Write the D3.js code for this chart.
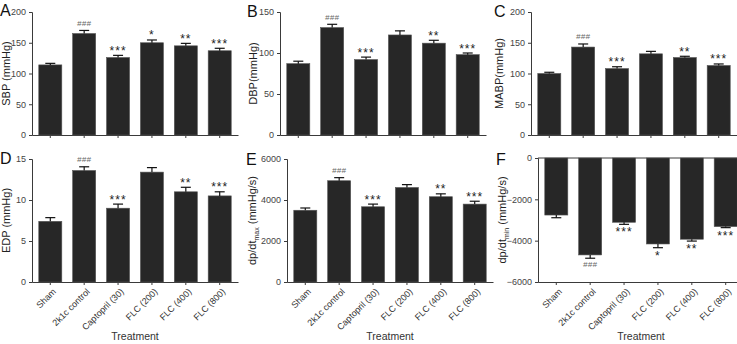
<!DOCTYPE html>
<html>
<head>
<meta charset="utf-8">
<script src="https://cdn.jsdelivr.net/npm/d3@7"></script>
<style>
  body { margin: 0; background: #fff; }
  text { font-family: "Liberation Sans", Arial, sans-serif; }
</style>
</head>
<body>
<div id="chart"></div>
<script>
// groups on the x axis
var groups = ["Sham", "2k1c control", "Captopril (30)", "FLC (200)", "FLC (400)", "FLC (800)"];

// mean values per panel
var sbp = [114, 165, 126, 150, 145, 137];
var dbp = [87, 131, 92, 122, 112, 98];
var mabp = [100, 143, 108, 132, 126, 113];
var edp = [7.4, 13.6, 9.0, 13.4, 11.0, 10.5];
var dpdtMax = [3500, 4940, 3670, 4610, 4160, 3800];
var dpdtMin = [-2760, -4690, -3110, -4160, -3930, -3320];

// SEM (error bar length)
var sbpErr = [2.5, 5, 3.5, 4.5, 4, 4];
var dbpErr = [3, 4, 3, 5, 3.5, 2];
var mabpErr = [2, 5, 3, 4, 2, 2.5];
var edpErr = [0.45, 0.45, 0.5, 0.55, 0.55, 0.5];
var dpdtMaxErr = [110, 150, 130, 140, 140, 140];
var dpdtMinErr = [130, 160, 100, 180, 90, 50];

// significance marks
var sigA = ["", "###", "***", "*", "**", "***"];
var sigB = ["", "###", "***", "", "**", "***"];
var sigC = ["", "###", "***", "", "**", "***"];
var sigD = ["", "###", "***", "", "**", "***"];
var sigE = ["", "###", "***", "", "**", "***"];
var sigF = ["", "###", "***", "*", "**", "***"];

// y tick values
var ticksA = [0, 50, 100, 150, 200];
var ticksB = [0, 50, 100, 150];
var ticksC = [0, 50, 100, 150, 200];
var ticksD = [0, 5, 10, 15];
var ticksE = [0, 2000, 4000, 6000];
var ticksF = [0, -2000, -4000, -6000];

var width = 737, height = 344;
var svg = d3.select('#chart').append('svg')
    .attr('width', width)
    .attr('height', height);

var barColor = '#272727';
var axisColor = '#3a3a3a';

var panels = [
  {letter: 'A', title: ['SBP (mmHg)'], vals: sbp, err: sbpErr, sig: sigA, ticks: ticksA,
   ax: 32, top: 12, bottom: 135, letterX: 0, letterY: 16, titleX: 6},
  {letter: 'B', title: ['DBP(mmHg)'], vals: dbp, err: dbpErr, sig: sigB, ticks: ticksB,
   ax: 280, top: 12, bottom: 135, letterX: 247, letterY: 17, titleX: 253},
  {letter: 'C', title: ['MABP(mmHg)'], vals: mabp, err: mabpErr, sig: sigC, ticks: ticksC,
   ax: 531, top: 12, bottom: 135, letterX: 494, letterY: 17, titleX: 499},
  {letter: 'D', title: ['EDP (mmHg)'], vals: edp, err: edpErr, sig: sigD, ticks: ticksD,
   ax: 32, top: 159, bottom: 282, letterX: 0, letterY: 164, titleX: 6, xlabels: true},
  {letter: 'E', title: ['dp/dt', 'max', ' (mmHg/s)'], vals: dpdtMax, err: dpdtMaxErr, sig: sigE, ticks: ticksE,
   ax: 287, top: 159, bottom: 282, letterX: 246, letterY: 165, titleX: 252, xlabels: true},
  {letter: 'F', title: ['dp/dt', 'min', ' (mmHg/s)'], vals: dpdtMin, err: dpdtMinErr, sig: sigF, ticks: ticksF,
   ax: 538, top: 158, bottom: 282, letterX: 496, letterY: 165, titleX: 502, xlabels: true}
];

panels.forEach(function(p) {
  var g = svg.append('g');
  var ext = d3.extent(p.ticks);
  var y = d3.scaleLinear().domain(ext).range([p.bottom, p.top]);
  var x = d3.scaleBand().domain(groups)
      .range([p.ax, p.ax + 206])
      .paddingInner(0.32).paddingOuter(0.2);

  // y axis
  var yAxis = d3.axisLeft(y).tickValues(p.ticks).tickSize(3).tickPadding(3)
      .tickFormat(function(d) { return d < 0 ? '\u2212' + Math.abs(d) : d; });
  var yg = g.append('g').attr('transform', 'translate(' + p.ax + ',0)').call(yAxis);
  yg.select('.domain').attr('stroke', axisColor);
  yg.selectAll('.tick line').attr('stroke', axisColor);
  yg.selectAll('.tick text').attr('fill', '#444').style('font-size', '9px');

  // x axis at bottom
  var xAxis = d3.axisBottom(x).tickSize(3).tickSizeOuter(0).tickFormat('');
  var xg = g.append('g').attr('transform', 'translate(0,' + p.bottom + ')').call(xAxis);
  xg.select('.domain').attr('stroke', axisColor);
  xg.selectAll('.tick line').attr('stroke', axisColor);

  var base = y(0);
  // zero line for the negative panel
  if (ext[1] === 0) {
    g.append('line').attr('x1', p.ax).attr('x2', p.ax + 206)
      .attr('y1', base).attr('y2', base).attr('stroke', axisColor);
  }

  // bars
  g.selectAll('rect.bar').data(p.vals).enter().append('rect')
    .attr('class', 'bar')
    .attr('x', function(d, i) { return x(groups[i]); })
    .attr('width', x.bandwidth())
    .attr('y', function(d) { return Math.min(y(d), base); })
    .attr('height', function(d) { return Math.abs(y(d) - base); })
    .attr('fill', barColor)
    .attr('stroke', '#555')
    .attr('stroke-width', 0.6);

  // error bars (one-sided, away from zero)
  var cap = 5;
  p.vals.forEach(function(v, i) {
    var cx = x(groups[i]) + x.bandwidth() / 2;
    var e = v >= 0 ? v + p.err[i] : v - p.err[i];
    g.append('line').attr('x1', cx).attr('x2', cx)
      .attr('y1', y(v)).attr('y2', y(e)).attr('stroke', '#111').attr('stroke-width', 1.2);
    g.append('line').attr('x1', cx - cap).attr('x2', cx + cap)
      .attr('y1', y(e)).attr('y2', y(e)).attr('stroke', '#111').attr('stroke-width', 1.2);

    var s = p.sig[i];
    if (s) {
      var isHash = s.charAt(0) === '#';
      var ty;
      if (v >= 0) ty = isHash ? y(e) - 4.5 : y(e) - 0.5;
      else ty = isHash ? y(e) + 8.5 : y(e) + 12;
      g.append('text')
        .attr('x', cx).attr('y', ty)
        .attr('text-anchor', 'middle')
        .attr('fill', isHash ? '#666' : '#222')
        .style('font-size', isHash ? '8px' : '12px')
        .style('font-style', isHash ? 'italic' : 'normal')
        .style('letter-spacing', isHash ? '0.3px' : '1px')
        .text(s);
    }
  });

  // panel letter
  g.append('text').attr('x', p.letterX).attr('y', p.letterY)
    .style('font-size', '16px').attr('fill', '#111').text(p.letter);

  // y title
  var midY = (p.top + p.bottom) / 2;
  var t = g.append('text')
    .attr('transform', 'translate(' + p.titleX + ',' + midY + ') rotate(-90)')
    .attr('text-anchor', 'middle')
    .attr('dy', '0.35em')
    .attr('fill', '#222')
    .style('font-size', '11px');
  t.append('tspan').text(p.title[0]);
  if (p.title.length > 1) {
    t.append('tspan').attr('dy', '3').style('font-size', '7px').text(p.title[1]);
    t.append('tspan').attr('dy', '-3').text(p.title[2]);
  }

  // x labels + axis title for the bottom row
  if (p.xlabels) {
    groups.forEach(function(name) {
      var cx = x(name) + x.bandwidth() / 2;
      g.append('text')
        .attr('transform', 'translate(' + (cx + 4) + ',' + (p.bottom + 8) + ') rotate(-45)')
        .attr('text-anchor', 'end')
        .attr('dy', '0.35em')
        .attr('fill', '#333')
        .style('font-size', '9px')
        .text(name);
    });
    g.append('text')
      .attr('x', p.ax + 103).attr('y', 340)
      .attr('text-anchor', 'middle')
      .attr('fill', '#333')
      .style('font-size', '10.5px')
      .text('Treatment');
  }
});
</script>
</body>
</html>
